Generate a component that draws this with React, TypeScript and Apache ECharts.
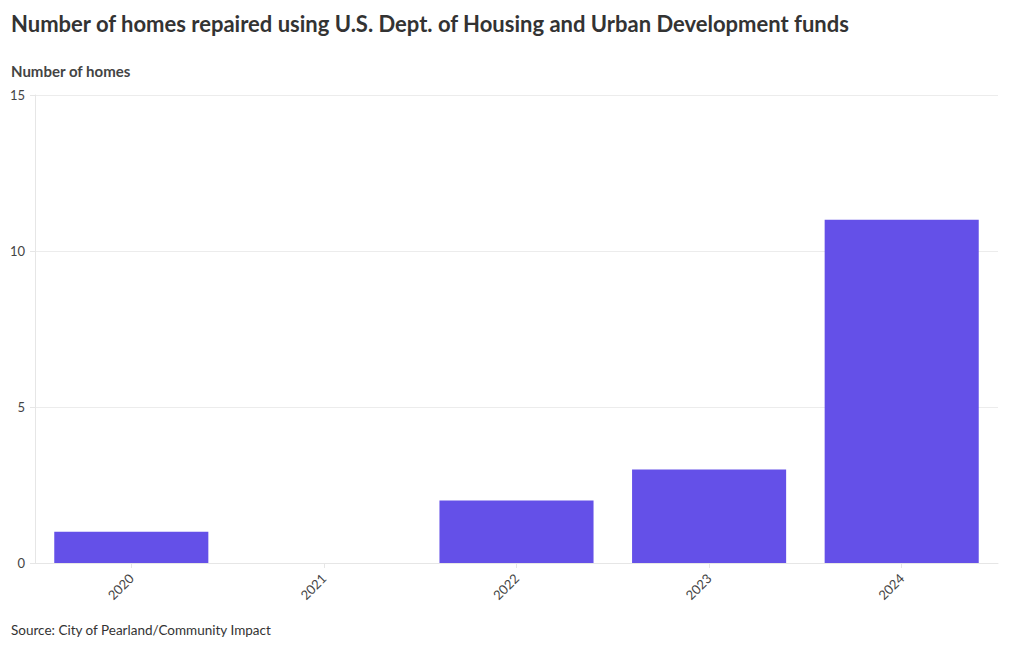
import React, { useEffect, useRef } from "react";
import * as echarts from "echarts";

const categories = ["2020", "2021", "2022", "2023", "2024"];
const homesRepaired = [1, 0, 2, 3, 11];
const yTicks = { min: 0, max: 15, interval: 5 };

const titleText = "Number of homes repaired using U.S. Dept. of Housing and Urban Development funds";
const yAxisTitle = "Number of homes";
const sourceText = "Source: City of Pearland/Community Impact";

const FONT = "Lato, 'Noto Sans', sans-serif";

export default function App() {
  const ref = useRef<HTMLDivElement>(null);
  useEffect(() => {
    document.body.style.margin = "0";
    const chart = echarts.init(ref.current!, null, { renderer: "svg" });
    chart.setOption({
      animation: false,
      backgroundColor: "#ffffff",
      textStyle: { fontFamily: FONT },
      grid: { left: 35, right: 22, top: 95, bottom: 87, containLabel: false },
      graphic: [
        {
          type: "text",
          left: 11,
          top: 12,
          style: { text: titleText, font: `bold 22px ${FONT}`, fill: "#333333" },
        },
        {
          type: "text",
          left: 11,
          top: 63,
          style: { text: yAxisTitle, font: `bold 15px ${FONT}`, fill: "#444444" },
        },
        {
          type: "text",
          left: 11,
          top: 623,
          style: { text: sourceText, font: `13.5px ${FONT}`, fill: "#333333" },
        },
      ],
      xAxis: {
        type: "category",
        data: categories,
        axisLine: { show: true, lineStyle: { color: "#e6e6e6" } },
        axisTick: { show: true, alignWithLabel: true, length: 5, lineStyle: { color: "#e6e6e6" } },
        axisLabel: { rotate: 45, color: "#444444", fontSize: 13, margin: 13, fontFamily: FONT },
      },
      yAxis: {
        type: "value",
        min: yTicks.min,
        max: yTicks.max,
        interval: yTicks.interval,
        axisLine: { show: true, lineStyle: { color: "#e6e6e6" } },
        axisTick: { show: true, length: 5, lineStyle: { color: "#e6e6e6" } },
        axisLabel: { color: "#444444", fontSize: 13, margin: 10, fontFamily: FONT },
        splitLine: { show: true, lineStyle: { color: "#ececec" } },
      },
      series: [
        {
          type: "bar",
          data: homesRepaired,
          barCategoryGap: "20%",
          itemStyle: { color: "#6450e8" },
        },
      ],
    });
    return () => chart.dispose();
  }, []);
  return <div ref={ref} style={{ width: 1020, height: 650 }} />;
}
